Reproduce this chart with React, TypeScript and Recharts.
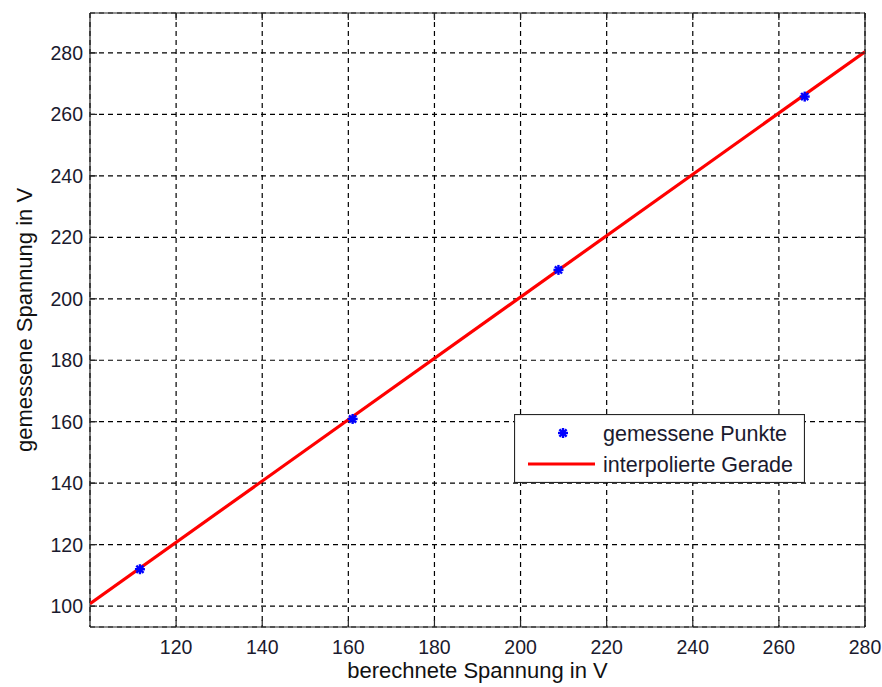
import React from "react";
import {
  ScatterChart,
  Scatter,
  XAxis,
  YAxis,
  CartesianGrid,
  Legend,
  Label,
} from "recharts";

// measured points
const measuredX = [111.6, 161.0, 208.8, 266.0];
const measuredY = [112.0, 160.9, 209.4, 265.8];
// fitted line endpoints
const fitX = [100, 280];
const fitY = [100.8, 280.4];

const xTicks = [120, 140, 160, 180, 200, 220, 240, 260, 280];
const yTicks = [100, 120, 140, 160, 180, 200, 220, 240, 260, 280];
const xDomain = [100, 280];
const yDomain = [93.2, 293];

const xLabel = "berechnete Spannung in V";
const yLabel = "gemessene Spannung in V";
const legendLabels = ["gemessene Punkte", "interpolierte Gerade"];

const measured = measuredX.map((x, i) => ({ x, y: measuredY[i] }));
const fit = fitX.map((x, i) => ({ x, y: fitY[i] }));

const FONT = "'Liberation Sans', Arial, Helvetica, sans-serif";
const TXT = "#1a1a2e";
const AX = "#262626";
const TICK_LEN = 7;
const BLUE = "#0000ff";
const RED = "#ff0000";
const TICK_FS = 19.5;
const LABEL_FS = 22;
const LEGEND_FS = 21.5;

const Star = (props: any) => {
  const { cx, cy } = props;
  if (cx == null || cy == null) return null;
  const r = 5;
  const d = r * 0.72;
  return (
    <g stroke={BLUE} strokeWidth={2.4}>
      <line x1={cx - r} y1={cy} x2={cx + r} y2={cy} />
      <line x1={cx} y1={cy - r} x2={cx} y2={cy + r} />
      <line x1={cx - d} y1={cy - d} x2={cx + d} y2={cy + d} />
      <line x1={cx - d} y1={cy + d} x2={cx + d} y2={cy - d} />
    </g>
  );
};

const BottomTick = (props: any) => {
  const { x, y, payload } = props;
  const axisY = y - 13;
  return (
    <g>
      <line x1={x} x2={x} y1={axisY} y2={axisY - TICK_LEN} stroke={AX} strokeWidth={1.2} />
      <text x={x} y={y} dy="0.71em" textAnchor="middle" fontSize={TICK_FS} fontFamily={FONT} fill={TXT}>
        {payload.value}
      </text>
    </g>
  );
};

const LeftTick = (props: any) => {
  const { x, y, payload } = props;
  const axisX = x + 7;
  return (
    <g>
      <line x1={axisX} x2={axisX + TICK_LEN} y1={y} y2={y} stroke={AX} strokeWidth={1.2} />
      <text x={x} y={y} dy="0.355em" textAnchor="end" fontSize={TICK_FS} fontFamily={FONT} fill={TXT}>
        {payload.value}
      </text>
    </g>
  );
};

const TopTick = (props: any) => {
  const { x, y } = props;
  const axisY = y + 2;
  return <line x1={x} x2={x} y1={axisY} y2={axisY + TICK_LEN} stroke={AX} strokeWidth={1.2} />;
};

const RightTick = (props: any) => {
  const { x, y } = props;
  const axisX = x - 2;
  return <line x1={axisX} x2={axisX - TICK_LEN} y1={y} y2={y} stroke={AX} strokeWidth={1.2} />;
};

const LegendBox = () => (
  <svg width={291} height={69} style={{ display: "block" }}>
    <rect x={0.5} y={0.5} width={290} height={68} fill="#fff" stroke={AX} strokeWidth={1.2} />
    <Star cx={49} cy={19} />
    <text x={89} y={19} dy="0.355em" fontSize={LEGEND_FS} fontFamily={FONT} fill={TXT}>
      {legendLabels[0]}
    </text>
    <line x1={14} x2={81} y1={50} y2={50} stroke={RED} strokeWidth={3} />
    <text x={89} y={50} dy="0.355em" fontSize={LEGEND_FS} fontFamily={FONT} fill={TXT}>
      {legendLabels[1]}
    </text>
  </svg>
);

const YLabelContent = (props: any) => {
  const vb = props.viewBox || {};
  const cx = (vb.x || 0) + 24;
  const cy = (vb.y || 0) + (vb.height || 0) / 2;
  return (
    <text
      x={cx}
      y={cy}
      dy="0.355em"
      textAnchor="middle"
      transform={`rotate(-90, ${cx}, ${cy})`}
      fontSize={LABEL_FS}
      fontFamily={FONT}
      fill="#111"
    >
      {yLabel}
    </text>
  );
};

export default function App() {
  return (
    <div style={{ position: "absolute", left: 0, top: 0, width: 882, height: 687, background: "#fff" }}>
      <ScatterChart width={882} height={687} margin={{ top: 0, right: 0, bottom: 0, left: 0 }}>
        <CartesianGrid xAxisId="b" yAxisId="l" stroke="#000" strokeDasharray="5 4" strokeWidth={1.2} />
        <XAxis
          xAxisId="b"
          type="number"
          dataKey="x"
          domain={xDomain}
          ticks={xTicks}
          allowDataOverflow
          orientation="bottom"
          height={60}
          tickLine={false}
          tickSize={0}
          tickMargin={13}
          tick={<BottomTick />}
          axisLine={{ stroke: AX, strokeWidth: 1.2 }}
        >
          <Label value={xLabel} position="insideBottom" offset={9} fontSize={LABEL_FS} fontFamily={FONT} fill="#111" />
        </XAxis>
        <XAxis
          xAxisId="t"
          type="number"
          dataKey="x"
          domain={xDomain}
          ticks={xTicks}
          allowDataOverflow
          orientation="top"
          height={13}
          tickLine={false}
          tickSize={0}
          tickMargin={2}
          tick={<TopTick />}
          axisLine={{ stroke: AX, strokeWidth: 1.2 }}
        />
        <YAxis
          yAxisId="l"
          type="number"
          dataKey="y"
          domain={yDomain}
          ticks={yTicks}
          allowDataOverflow
          orientation="left"
          width={90}
          tickLine={false}
          tickSize={0}
          tickMargin={7}
          tick={<LeftTick />}
          axisLine={{ stroke: AX, strokeWidth: 1.2 }}
        >
          <Label content={<YLabelContent />} />
        </YAxis>
        <YAxis
          yAxisId="r"
          type="number"
          dataKey="y"
          domain={yDomain}
          ticks={yTicks}
          allowDataOverflow
          orientation="right"
          width={17}
          tickLine={false}
          tickSize={0}
          tickMargin={2}
          tick={<RightTick />}
          axisLine={{ stroke: AX, strokeWidth: 1.2 }}
        />
        <Scatter
          xAxisId="b"
          yAxisId="l"
          data={fit}
          line={{ stroke: RED, strokeWidth: 3.2 }}
          shape={() => null}
          isAnimationActive={false}
          legendType="none"
        />
        <Scatter
          xAxisId="b"
          yAxisId="l"
          data={measured}
          shape={<Star />}
          isAnimationActive={false}
          legendType="none"
        />
        <Legend
          layout="vertical"
          align="center"
          verticalAlign="middle"
          content={<LegendBox />}
          wrapperStyle={{ position: "absolute", left: 514, top: 414, width: 291, height: 69 }}
        />
      </ScatterChart>
    </div>
  );
}
